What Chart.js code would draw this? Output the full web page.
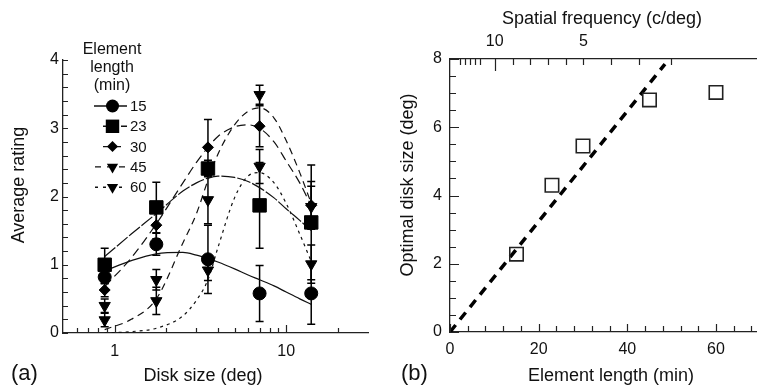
<!DOCTYPE html>
<html>
<head>
<meta charset="utf-8">
<script src="https://cdn.jsdelivr.net/npm/chart.js@4.4.1/dist/chart.umd.min.js"></script>
<style>
  html, body { margin: 0; padding: 0; background: #fff; overflow: hidden; width: 757px; height: 388px; }
  #wrapA { position: absolute; left: 0; top: 0; width: 380px; height: 388px; }
  #wrapB { position: absolute; left: 380px; top: 0; width: 400px; height: 388px; }
  .tag { position: absolute; font: 22px "Liberation Sans", Arial, sans-serif; line-height: 1; color: #111; }
</style>
</head>
<body>
<div id="wrapA"><canvas id="chartA" width="380" height="388"></canvas></div>
<div id="wrapB"><canvas id="chartB" width="400" height="388"></canvas></div>
<div class="tag" style="left:11px; top:362px;">(a)</div>
<div class="tag" style="left:401px; top:362px;">(b)</div>
<script>
// ---- panel (a) data ----
const diskSizes = [0.875, 1.75, 3.5, 7, 14];
const rating15 = [0.82, 1.30, 1.08, 0.58, 0.58];
const rating23 = [1.00, 1.84, 2.41, 1.87, 1.62];
const rating30 = [0.63, 1.58, 2.72, 3.03, 1.87];
const rating45 = [0.40, 0.78, 1.95, 3.49, 1.85];
const rating60 = [0.19, 0.47, 0.92, 2.44, 1.01];
const err15 = [0.10, 0.16, 0.50, 0.41, 0.45];
const err23 = [0.24, 0.37, 0.12, 0.63, 0.84];
const err30 = [0.10, 0.20, 0.41, 0.30, 0.35];
const err45 = [0.10, 0.15, 0.35, 0.14, 0.30];
const err60 = [0.10, 0.20, 0.15, 0.25, 0.28];
// fitted curves
const fitX  = [0.875, 1.25, 1.75, 2.5, 3, 3.5, 4, 5, 6, 7, 8.5, 10, 12, 14];
const fit15 = [0.91, 1.06, 1.16, 1.18, 1.14, 1.09, 1.04, 0.94, 0.85, 0.78, 0.69, 0.60, 0.50, 0.42];
const fit23 = [1.12, 1.45, 1.75, 2.08, 2.20, 2.27, 2.30, 2.28, 2.22, 2.13, 1.98, 1.82, 1.65, 1.50];
const fit30 = [0.68, 1.10, 1.60, 2.20, 2.50, 2.72, 2.88, 3.02, 3.05, 3.00, 2.80, 2.52, 2.20, 1.86];
const fit45 = [0.05, 0.20, 0.50, 1.32, 1.75, 2.24, 2.62, 3.05, 3.25, 3.30, 3.15, 2.82, 2.35, 1.90];
const fit60 = [0.00, 0.02, 0.07, 0.25, 0.48, 0.78, 1.25, 1.98, 2.30, 2.35, 2.20, 1.90, 1.45, 1.05];
const xTicksA = [0.6, 0.7, 0.8, 0.9, 1, 2, 3, 4, 5, 6, 7, 8, 9, 10, 20];
const xLabelsA = [1, 10];

// ---- panel (b) data ----
const elementLength = [15, 23, 30, 45, 60];
const optimalSize = [2.28, 4.30, 5.45, 6.80, 7.02];
const lineX = [0, 48.5];
const lineY = [0, 7.85];
const topTickPos = [2.2, 3.4, 4.5, 5.6, 6.7, 10.1, 14.1, 18, 22, 26.2, 30.1, 36.3, 42.7, 49.8];
const topTickLabels = ['', '', '', '', '', '10', '', '', '', '', '5', '', '', ''];

const FONT = "'Liberation Sans', Arial, Helvetica, sans-serif";
Chart.defaults.font.family = FONT;
Chart.defaults.color = '#111';

const pts = (xs, ys) => xs.map((x, i) => ({ x: x, y: ys[i] }));
const range = (a, b, step) => { const out = []; for (let v = a; v <= b + 1e-9; v += step) out.push(+v.toFixed(3)); return out; };

const seriesA = [
  { label: '15', y: rating15, err: err15, fit: fit15, style: 'circle',   r: 6.5, rot: 0,   dash: [],      lx0: 94,  lx1: 127 },
  { label: '23', y: rating23, err: err23, fit: fit23, style: 'rect',     r: 9.5, rot: 0,   dash: [14, 2], lx0: 103, lx1: 127 },
  { label: '30', y: rating30, err: err30, fit: fit30, style: 'rectRot',  r: 5.5, rot: 0,   dash: [9, 5],  lx0: 103, lx1: 127 },
  { label: '45', y: rating45, err: err45, fit: fit45, style: 'triangle', r: 6.5, rot: 180, dash: [7, 5],  lx0: 95,  lx1: 127 },
  { label: '60', y: rating60, err: err60, fit: fit60, style: 'triangle', r: 6.5, rot: 180, dash: [3, 4],  lx0: 95,  lx1: 127 }
];

function drawMarker(ctx, style, r, rot, x, y, fill) {
  ctx.save();
  ctx.beginPath();
  if (style === 'circle') {
    ctx.arc(x, y, r, 0, Math.PI * 2);
  } else if (style === 'rect') {
    const s = Math.SQRT1_2 * r;
    ctx.rect(x - s, y - s, 2 * s, 2 * s);
  } else if (style === 'rectRot') {
    ctx.moveTo(x - r, y); ctx.lineTo(x, y - r); ctx.lineTo(x + r, y); ctx.lineTo(x, y + r); ctx.closePath();
  } else {
    let a = rot * Math.PI / 180;
    ctx.moveTo(x + Math.sin(a) * r, y - Math.cos(a) * r);
    a += 2 * Math.PI / 3;
    ctx.lineTo(x + Math.sin(a) * r, y - Math.cos(a) * r);
    a += 2 * Math.PI / 3;
    ctx.lineTo(x + Math.sin(a) * r, y - Math.cos(a) * r);
    ctx.closePath();
  }
  ctx.fillStyle = fill;
  ctx.fill();
  ctx.restore();
}

function inwardTicks(ctx, scale, values, lenFn, side) {
  const a = scale.chart.chartArea;
  ctx.save();
  ctx.strokeStyle = '#222';
  ctx.lineWidth = 1.2;
  ctx.beginPath();
  values.forEach(v => {
    const p = Math.round(scale.getPixelForValue(v)) + 0.5;
    const len = lenFn(v);
    if (side === 'left') { ctx.moveTo(a.left, p); ctx.lineTo(a.left + len, p); }
    if (side === 'bottom') { ctx.moveTo(p, a.bottom); ctx.lineTo(p, a.bottom - len); }
    if (side === 'top') { ctx.moveTo(p, a.top); ctx.lineTo(p, a.top + len); }
  });
  ctx.stroke();
  ctx.restore();
}

function drawText(ctx, text, x, y, size, rotate) {
  ctx.save();
  ctx.font = size + 'px ' + FONT;
  ctx.fillStyle = '#111';
  ctx.textAlign = 'center';
  ctx.textBaseline = 'middle';
  ctx.translate(x, y);
  if (rotate) ctx.rotate(-Math.PI / 2);
  ctx.fillText(text, 0, 0);
  ctx.restore();
}

const errorBarPlugin = {
  id: 'errorBars',
  beforeDatasetsDraw(chart) {
    const ctx = chart.ctx;
    const xs = chart.scales.x, ys = chart.scales.y;
    ctx.save();
    ctx.strokeStyle = '#000';
    ctx.lineWidth = 1.5;
    chart.data.datasets.forEach(ds => {
      if (!ds.errorBars) return;
      ds.data.forEach((p, i) => {
        const e = ds.errorBars[i];
        const px = xs.getPixelForValue(p.x);
        const y1 = ys.getPixelForValue(p.y - e);
        const y2 = ys.getPixelForValue(p.y + e);
        ctx.beginPath();
        ctx.moveTo(px, y1); ctx.lineTo(px, y2);
        ctx.moveTo(px - 4, y1); ctx.lineTo(px + 4, y1);
        ctx.moveTo(px - 4, y2); ctx.lineTo(px + 4, y2);
        ctx.stroke();
      });
    });
    ctx.restore();
  }
};

const decorA = {
  id: 'decorA',
  afterDraw(chart) {
    const ctx = chart.ctx;
    inwardTicks(ctx, chart.scales.y, range(0, 4, 0.2), () => 5, 'left');
    inwardTicks(ctx, chart.scales.x, xTicksA, v => (xLabelsA.includes(v) ? 8 : 5), 'bottom');
    drawText(ctx, 'Average rating', 19, 185, 18, true);
    drawText(ctx, 'Disk size (deg)', 203, 376, 18, false);
    // legend
    drawText(ctx, 'Element', 112, 50, 16, false);
    drawText(ctx, 'length', 112, 68, 16, false);
    drawText(ctx, '(min)', 112, 86, 16, false);
    seriesA.forEach((s, i) => {
      const y = 106 + i * 20.3;
      ctx.save();
      ctx.strokeStyle = '#111';
      ctx.lineWidth = 1.4;
      ctx.setLineDash(s.dash.length ? [Math.min(s.dash[0], 6), s.dash[1] + 1] : []);
      ctx.beginPath();
      ctx.moveTo(s.lx0, y); ctx.lineTo(s.lx1, y);
      ctx.stroke();
      ctx.restore();
      drawMarker(ctx, s.style, s.r, s.rot, 112.5, y, '#000');
      ctx.save();
      ctx.font = '15px ' + FONT;
      ctx.fillStyle = '#111';
      ctx.textBaseline = 'middle';
      ctx.fillText(s.label, 130, y + 1);
      ctx.restore();
    });
  }
};

const datasetsA = [];
seriesA.forEach(s => {
  datasetsA.push({
    label: s.label + ' fit', data: pts(fitX, s.fit), showLine: true,
    borderColor: '#111', borderWidth: 1.2, borderDash: s.dash,
    pointRadius: 0, cubicInterpolationMode: 'monotone', order: 2
  });
  datasetsA.push({
    label: s.label, data: pts(diskSizes, s.y), errorBars: s.err, showLine: false,
    pointStyle: s.style, pointRadius: s.r, pointRotation: s.rot,
    backgroundColor: '#000', borderColor: '#000', borderWidth: 1, order: 1
  });
});

new Chart(document.getElementById('chartA'), {
  type: 'scatter',
  data: { datasets: datasetsA },
  options: {
    responsive: false,
    devicePixelRatio: 1,
    animation: false,
    layout: { padding: { left: 0, top: 60, right: 12, bottom: 0 } },
    plugins: { legend: { display: false }, tooltip: { enabled: false } },
    scales: {
      x: {
        type: 'logarithmic', min: 0.5, max: 30,
        afterBuildTicks: s => { s.ticks = xTicksA.map(v => ({ value: v })); },
        afterFit: s => { s.height = 55; },
        grid: { display: false, drawTicks: false },
        border: { display: true, color: '#222', width: 1.3 },
        ticks: {
          autoSkip: false, maxRotation: 0, padding: 9, font: { size: 16 },
          callback: v => (xLabelsA.includes(v) ? String(v) : '')
        }
      },
      y: {
        min: 0, max: 4,
        afterBuildTicks: s => { s.ticks = range(0, 4, 0.2).map(v => ({ value: v })); },
        afterFit: s => { s.width = 63; },
        grid: { display: false, drawTicks: false },
        border: { display: true, color: '#222', width: 1.3 },
        ticks: {
          autoSkip: false, padding: 4, font: { size: 16 },
          callback: v => (Number.isInteger(v) ? String(v) : '')
        }
      }
    }
  },
  plugins: [errorBarPlugin, decorA]
});

// ---- panel (b) ----
const decorB = {
  id: 'decorB',
  afterDraw(chart) {
    const ctx = chart.ctx;
    inwardTicks(ctx, chart.scales.y, range(0, 8, 0.5), v => (v % 2 === 0 ? 9 : 6), 'left');
    inwardTicks(ctx, chart.scales.x, range(0, 68, 4), v => (v % 20 === 0 ? 8 : 6), 'bottom');
    inwardTicks(ctx, chart.scales.x2, topTickPos, v => (v === 10.1 ? 12 : 6), 'top');
    drawText(ctx, 'Optimal disk size (deg)', 28.5, 185, 18, true);
    drawText(ctx, 'Element length (min)', 231, 376, 18, false);
    drawText(ctx, 'Spatial frequency (c/deg)', 222, 19, 18, false);
  }
};

new Chart(document.getElementById('chartB'), {
  type: 'scatter',
  data: {
    datasets: [
      {
        label: 'Optimal', data: pts(elementLength, optimalSize), showLine: false,
        pointStyle: 'rect', pointRadius: 9.5, backgroundColor: 'rgba(0,0,0,0)',
        borderColor: '#222', borderWidth: 1.6, order: 1
      },
      {
        label: 'Fit', data: pts(lineX, lineY), showLine: true,
        borderColor: '#000', borderWidth: 3.5, borderDash: [9, 7],
        pointRadius: 0, order: 2
      }
    ]
  },
  options: {
    responsive: false,
    devicePixelRatio: 1,
    animation: false,
    layout: { padding: { left: 0, top: 0, right: 19.7, bottom: 0 } },
    plugins: { legend: { display: false }, tooltip: { enabled: false } },
    scales: {
      x: {
        min: 0, max: 70,
        afterBuildTicks: s => { s.ticks = [0, 20, 40, 60].map(v => ({ value: v })); },
        afterFit: s => { s.height = 56; },
        grid: { display: false, drawTicks: false },
        border: { display: true, color: '#222', width: 1.3 },
        ticks: { autoSkip: false, maxRotation: 0, padding: 8, font: { size: 16 } }
      },
      x2: {
        type: 'linear', position: 'top', min: 0, max: 70,
        afterBuildTicks: s => { s.ticks = topTickPos.map(v => ({ value: v })); },
        afterFit: s => { s.height = 59; },
        grid: { display: false, drawTicks: false },
        border: { display: true, color: '#222', width: 1.3 },
        ticks: { autoSkip: false, maxRotation: 0, padding: 8, font: { size: 16 },
          callback: (v, i) => topTickLabels[i] }
      },
      y: {
        min: 0, max: 8,
        afterBuildTicks: s => { s.ticks = [0, 2, 4, 6, 8].map(v => ({ value: v })); },
        afterFit: s => { s.width = 70; },
        grid: { display: false, drawTicks: false },
        border: { display: true, color: '#222', width: 1.3 },
        ticks: { autoSkip: false, padding: 8, font: { size: 16 } }
      }
    }
  },
  plugins: [decorB]
});
</script>
</body>
</html>
